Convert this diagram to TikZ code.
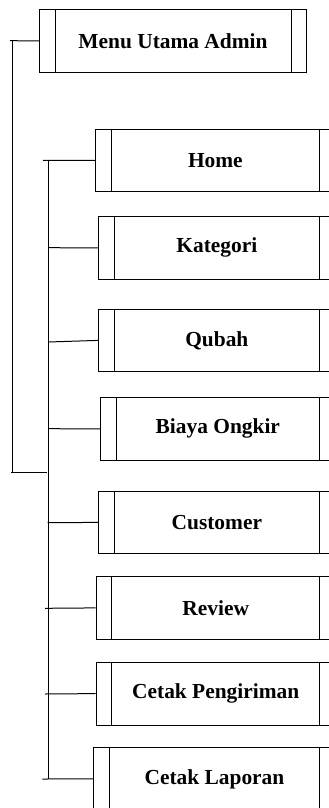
\documentclass[tikz,border=0pt]{standalone}
\usepackage{fontspec}
\setmainfont{Liberation Serif}
\usetikzlibrary{positioning}

\begin{document}
\begin{tikzpicture}[x=1pt,y=-1pt,line width=1pt,every node/.style={font=\bfseries\fontsize{21.4}{25}\selectfont}]
\tikzstyle{proc}=[draw,rectangle,anchor=north west,minimum height=62.8pt,inner sep=0pt]
\useasboundingbox (0,0) rectangle (329,808);
\clip (0,0) rectangle (329,808);
%
%
\node[proc,minimum width=267pt] (menu) at (39,9) {Menu Utama Admin};
  \node[proc,minimum width=239.7pt] (home) at (95,128.5) {Home};
  \node[proc,minimum width=236.7pt] (kategori) at (98,216) {Kategori};
  \node[proc,minimum width=236.7pt] (qubah) at (98,308.5) {Qubah};
  \node[proc,minimum width=234.7pt] (biaya) at (100,397) {Biaya Ongkir};
  \node[proc,minimum width=236.7pt] (customer) at (98,490.5) {Customer};
  \node[proc,minimum width=239pt] (review) at (95.7,576) {Review};
  \node[proc,minimum width=239pt] (kirim) at (95.7,661.7) {Cetak Pengiriman};
  \node[proc,minimum width=241.4pt] (laporan) at (93.3,747) {Cetak Laporan};
  \foreach \n in {menu,home,kategori,qubah,biaya,customer,review,kirim,laporan}
    \draw ([xshift=16pt]\n.north west) -- ([xshift=16pt]\n.south west)
          ([xshift=-16pt]\n.north east) -- ([xshift=-16pt]\n.south east);

  \coordinate (m0) at (10,40.7);
  \coordinate (m1) at (12,40.7);
  \coordinate (m2) at (12,472.3);
  \coordinate (m3) at (11,472.3);
  \coordinate (m4) at (47,472.3);
  \coordinate (b0) at (48.5,160.3);
  \coordinate (b1) at (48.5,779);
  \path (menu.west) edge (m0);
  \path (m1) edge (m2);
  \path (m3) edge (m4);
  \path (b0) edge (b1);
  \foreach \n/\x/\y in {home/43/160.3,kategori/48/247.7,qubah/48/342,biaya/48/428.7,
      customer/47.7/522.7,review/45/608.3,kirim/45/694,laporan/42.3/779} {
    \coordinate (s\n) at (\x,\y);
    \path (\n.west) edge (s\n);
  }
\end{tikzpicture}
\end{document}
